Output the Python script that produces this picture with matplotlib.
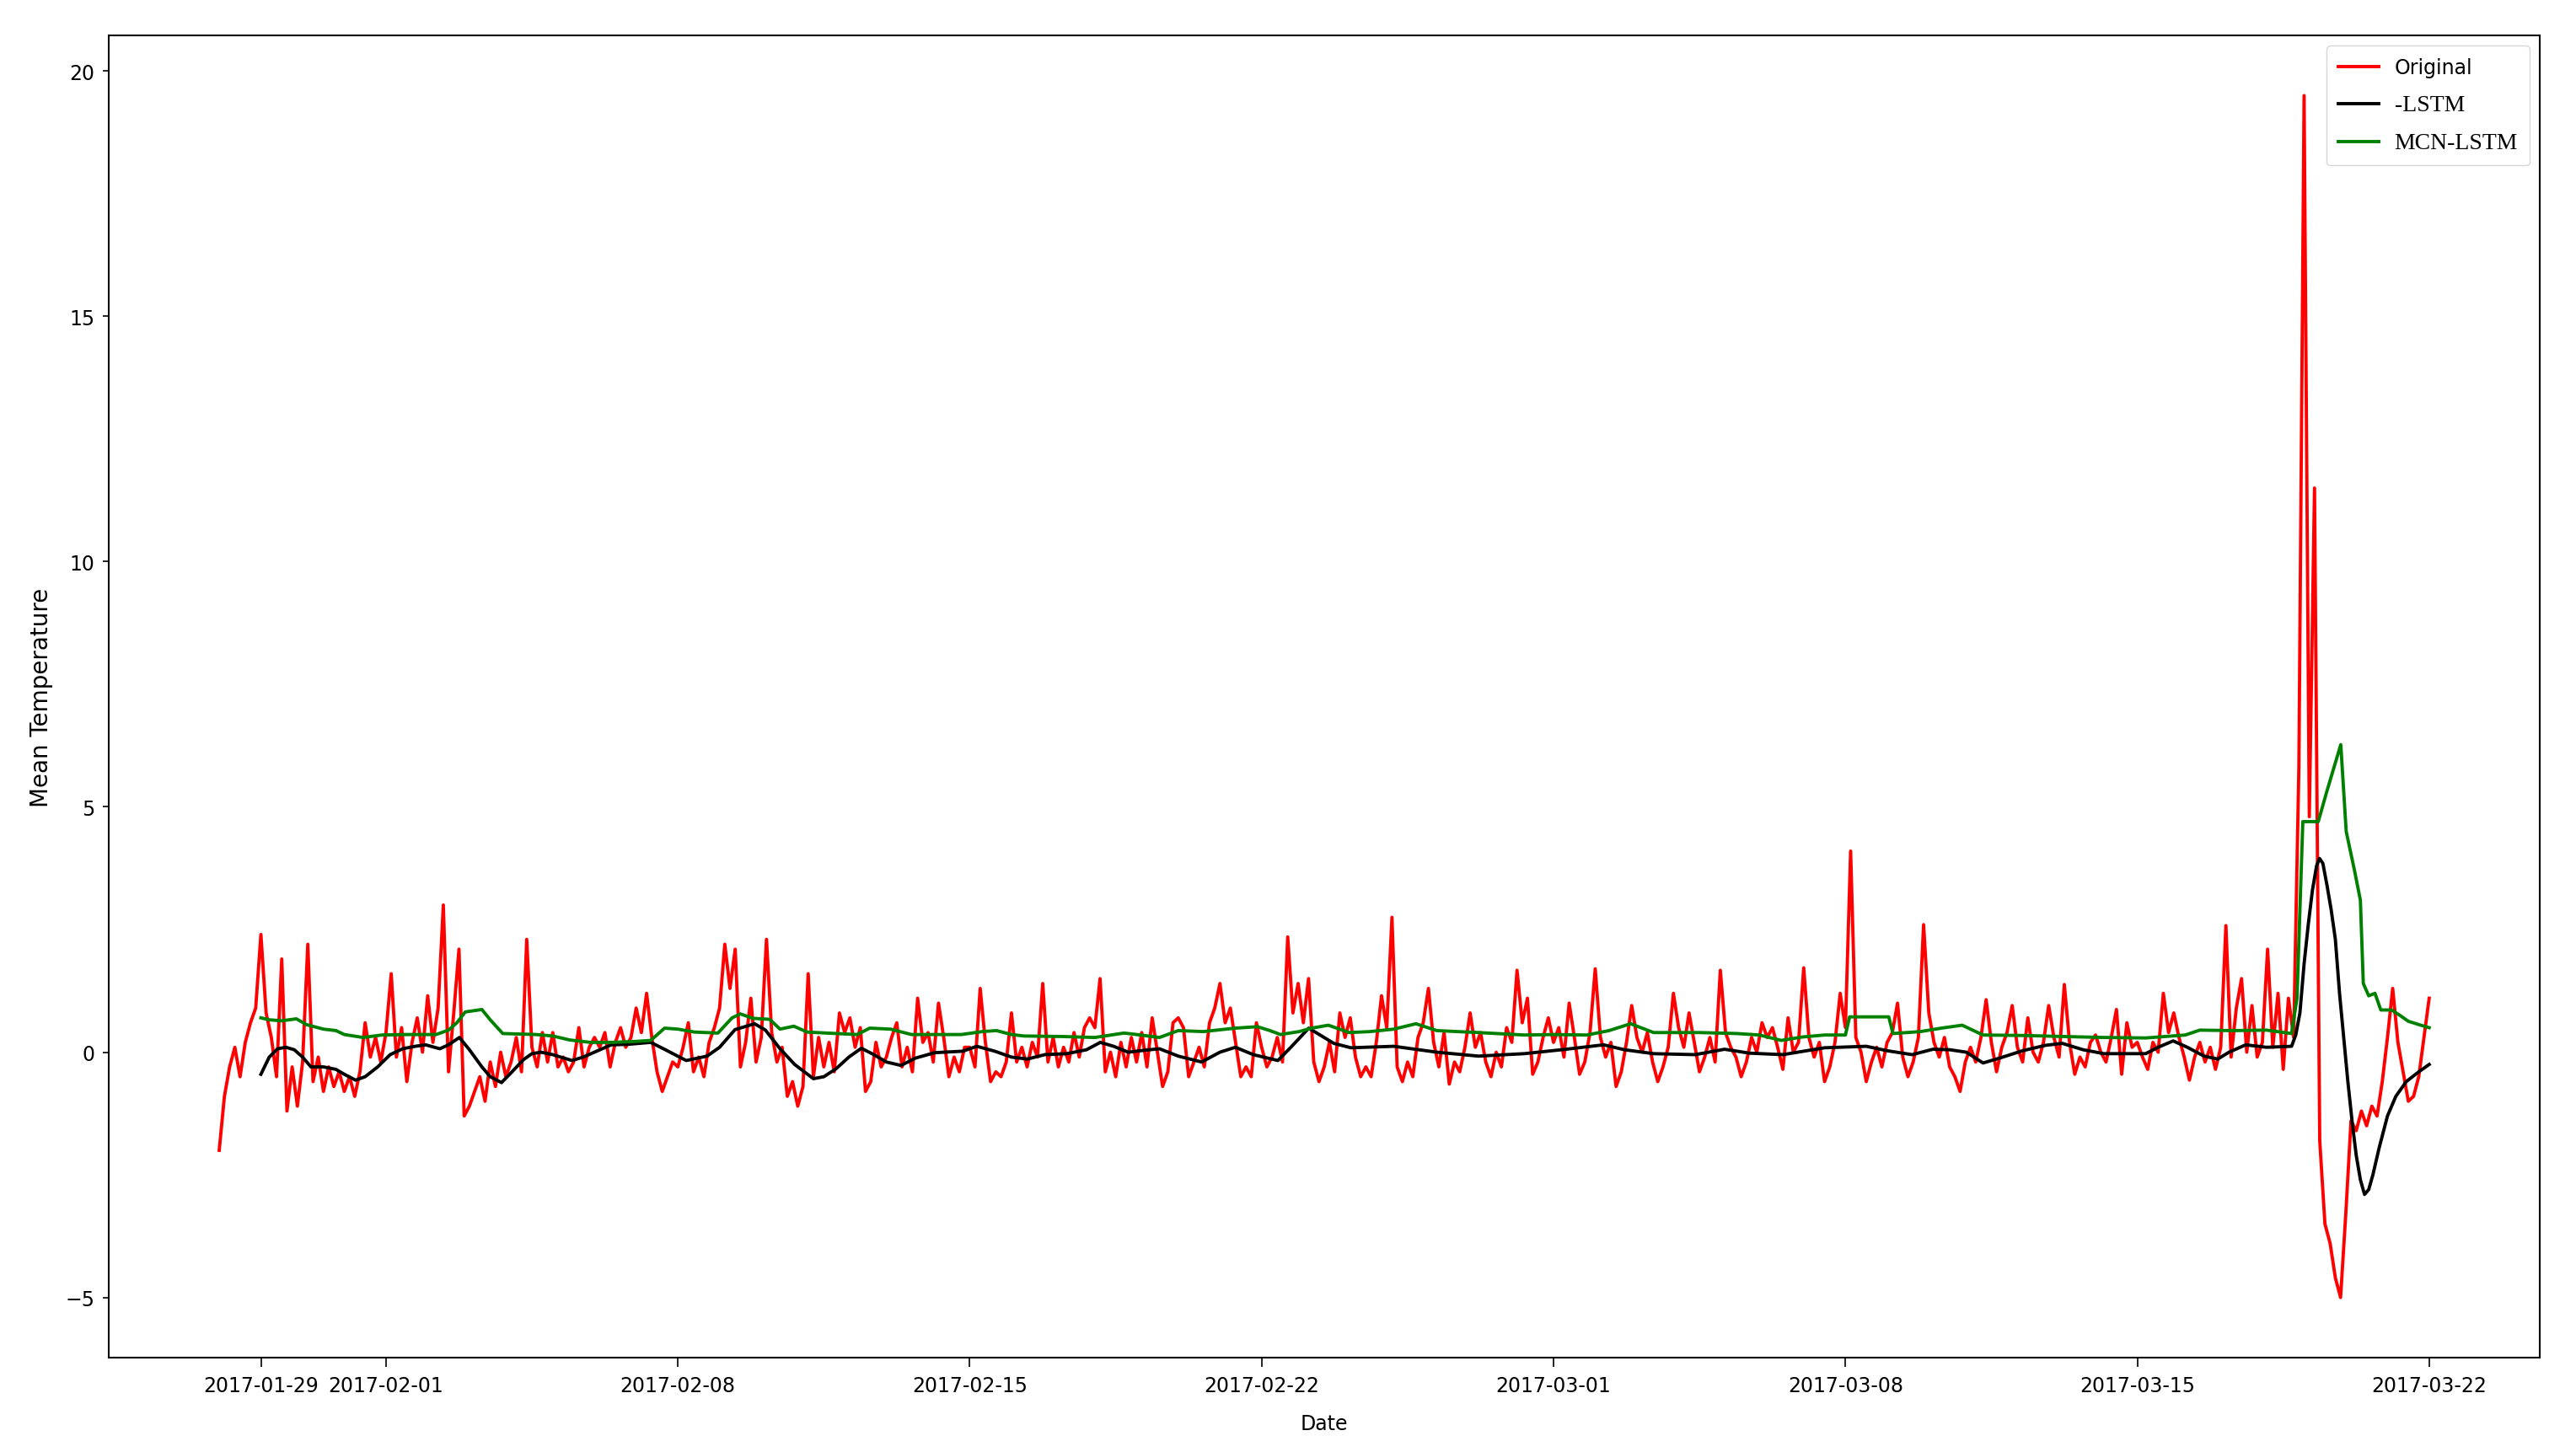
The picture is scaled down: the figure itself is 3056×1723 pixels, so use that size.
"""Mean temperature: original readings vs LSTM and MCN-LSTM predictions."""
import matplotlib
matplotlib.use("Agg")
import matplotlib.pyplot as plt
import matplotlib.dates as mdates
import pandas as pd

OUT = "out.png"

# Original series: 3-hourly values from 2017-01-28 00:00, one row per day
ORIGINAL_START = "2017-01-28"
ORIGINAL = [
    -2.0, -0.9, -0.3, 0.1, -0.5, 0.2, 0.6, 0.9,      # 01-28
    2.4, 0.8, 0.3, -0.5, 1.9, -1.2, -0.3, -1.1,      # 01-29
    -0.2, 2.2, -0.6, -0.1, -0.8, -0.3, -0.7, -0.4,   # 01-30
    -0.8, -0.5, -0.9, -0.4, 0.6, -0.1, 0.3, -0.2,    # 01-31
    0.4, 1.6, -0.1, 0.5, -0.6, 0.2, 0.7, 0.0,        # 02-01
    1.15, 0.2, 0.9, 3.0, -0.4, 0.8, 2.1, -1.3,       # 02-02
    -1.1, -0.8, -0.5, -1.0, -0.2, -0.7, 0.0, -0.5,   # 02-03
    -0.2, 0.3, -0.4, 2.3, 0.1, -0.3, 0.4, -0.2,      # 02-04
    0.4, -0.3, -0.1, -0.4, -0.2, 0.5, -0.3, 0.1,     # 02-05
    0.3, 0.1, 0.4, -0.3, 0.2, 0.5, 0.1, 0.3,         # 02-06
    0.9, 0.4, 1.2, 0.3, -0.4, -0.8, -0.5, -0.2,      # 02-07
    -0.3, 0.1, 0.6, -0.4, -0.1, -0.5, 0.2, 0.5,      # 02-08
    0.9, 2.2, 1.3, 2.1, -0.3, 0.2, 1.1, -0.2,        # 02-09
    0.3, 2.3, 0.4, -0.2, 0.1, -0.9, -0.6, -1.1,      # 02-10
    -0.7, 1.6, -0.5, 0.3, -0.3, 0.2, -0.4, 0.8,      # 02-11
    0.4, 0.7, 0.1, 0.5, -0.8, -0.6, 0.2, -0.3,       # 02-12
    -0.1, 0.3, 0.6, -0.3, 0.1, -0.4, 1.1, 0.2,       # 02-13
    0.4, -0.2, 1.0, 0.3, -0.5, -0.1, -0.4, 0.1,      # 02-14
    0.1, -0.3, 1.3, 0.2, -0.6, -0.4, -0.5, -0.2,     # 02-15
    0.8, -0.2, 0.1, -0.3, 0.2, -0.1, 1.4, -0.2,      # 02-16
    0.3, -0.3, 0.1, -0.2, 0.4, -0.1, 0.5, 0.7,       # 02-17
    0.5, 1.5, -0.4, 0.0, -0.5, 0.2, -0.3, 0.3,       # 02-18
    -0.2, 0.4, -0.3, 0.7, 0.0, -0.7, -0.4, 0.6,      # 02-19
    0.7, 0.5, -0.5, -0.2, 0.1, -0.3, 0.6, 0.9,       # 02-20
    1.4, 0.6, 0.9, 0.2, -0.5, -0.3, -0.5, 0.6,       # 02-21
    0.1, -0.3, -0.1, 0.3, -0.2, 2.35, 0.8, 1.4,      # 02-22
    0.6, 1.5, -0.2, -0.6, -0.3, 0.2, -0.4, 0.8,      # 02-23
    0.3, 0.7, -0.1, -0.5, -0.3, -0.5, 0.2, 1.15,     # 02-24
    0.5, 2.75, -0.3, -0.6, -0.2, -0.5, 0.3, 0.6,     # 02-25
    1.3, 0.2, -0.3, 0.4, -0.65, -0.2, -0.4, 0.1,     # 02-26
    0.8, 0.1, 0.4, -0.2, -0.5, 0.0, -0.3, 0.5,       # 02-27
    0.2, 1.67, 0.6, 1.1, -0.45, -0.2, 0.3, 0.7,      # 02-28
    0.2, 0.5, -0.1, 1.0, 0.3, -0.45, -0.2, 0.4,      # 03-01
    1.7, 0.3, -0.1, 0.2, -0.7, -0.4, 0.2, 0.95,      # 03-02
    0.3, 0.0, 0.4, -0.2, -0.6, -0.3, 0.1, 1.2,       # 03-03
    0.5, 0.1, 0.8, 0.2, -0.4, -0.1, 0.3, -0.2,       # 03-04
    1.67, 0.4, 0.1, -0.1, -0.5, -0.2, 0.3, 0.0,      # 03-05
    0.6, 0.3, 0.5, 0.1, -0.35, 0.7, 0.0, 0.2,        # 03-06
    1.72, 0.3, -0.1, 0.2, -0.6, -0.3, 0.2, 1.2,      # 03-07
    0.5, 4.1, 0.3, 0.0, -0.6, -0.2, 0.1, -0.3,       # 03-08
    0.2, 0.4, 1.0, -0.1, -0.5, -0.2, 0.3, 2.6,       # 03-09
    0.8, 0.2, -0.1, 0.3, -0.3, -0.5, -0.8, -0.2,     # 03-10
    0.1, -0.2, 0.3, 1.07, 0.2, -0.4, 0.1, 0.4,       # 03-11
    0.95, 0.1, -0.2, 0.7, 0.0, -0.2, 0.2, 0.95,      # 03-12
    0.3, -0.1, 1.38, 0.2, -0.45, -0.1, -0.3, 0.2,    # 03-13
    0.35, 0.0, -0.2, 0.3, 0.87, -0.45, 0.6, 0.1,     # 03-14
    0.2, -0.1, -0.35, 0.2, 0.0, 1.2, 0.4, 0.8,       # 03-15
    0.3, -0.1, -0.57, -0.1, 0.2, -0.2, 0.1, -0.35,   # 03-16
    0.1, 2.58, -0.1, 0.9, 1.5, 0.0, 0.95, -0.1,      # 03-17
    0.2, 2.1, 0.1, 1.2, -0.35, 1.1, 0.3, 5.8,        # 03-18
    19.5, 4.8, 11.5, -1.8, -3.5, -3.9, -4.6, -5.0,   # 03-19
    -3.3, -1.4, -1.6, -1.2, -1.5, -1.1, -1.3, -0.6,  # 03-20
    0.3, 1.3, 0.2, -0.4, -1.0, -0.9, -0.5, 0.3,      # 03-21
    1.1,                                             # 03-22 00:00
]

# Predictions, read as (days after 2017-01-29, value) points
PRED_START = "2017-01-29"
LSTM_DAY = [
    0.0, 0.2, 0.4, 0.6, 0.8, 1.0, 1.2, 1.5, 1.8, 2.0, 2.27, 2.5, 2.8, 3.1,
    3.4, 3.7, 3.95, 4.29, 4.5, 4.76, 5.0, 5.3, 5.5, 5.77, 6.0, 6.3, 6.5,
    6.72, 7.0, 7.46, 7.73, 8.0, 8.4, 8.8, 9.35, 9.7, 10.2, 10.7, 11.0,
    11.37, 11.84, 12.1, 12.45, 12.8, 13.25, 13.5, 13.79, 14.1, 14.4, 14.7,
    15.0, 15.35, 15.7, 16.16, 16.83, 17.17, 17.6, 18.0, 18.38, 18.8, 19.33,
    19.8, 20.13, 20.45, 20.8, 21.2, 21.55, 22.0, 22.56, 23.0, 23.37, 23.8,
    24.39, 24.7, 25.13, 25.5, 25.73, 26.14, 27.17, 28.2, 29.2, 30.3, 31.3,
    32.2, 32.7, 33.4, 34.4, 35.1, 35.7, 36.5, 37.5, 38.5, 39.0, 39.6, 40.1,
    40.5, 40.9, 41.3, 41.7, 42.25, 42.8, 43.2, 43.7, 44.2, 45.2, 45.5,
    45.86, 46.2, 46.6, 46.93, 47.2, 47.6, 48.1, 48.7, 48.8, 48.9, 49.0,
    49.1, 49.2, 49.3, 49.37, 49.45, 49.55, 49.65, 49.75, 49.85, 49.95,
    50.05, 50.15, 50.25, 50.35, 50.45, 50.55, 50.65, 50.8, 51.0, 51.2,
    51.45, 51.75, 52.0,
]
LSTM_VAL = [
    -0.45, -0.1, 0.07, 0.1, 0.05, -0.1, -0.3, -0.3, -0.35, -0.45, -0.57,
    -0.5, -0.3, -0.05, 0.07, 0.12, 0.15, 0.07, 0.15, 0.3, 0.05, -0.3, -0.5,
    -0.62, -0.42, -0.15, -0.03, 0.0, -0.05, -0.17, -0.1, 0.0, 0.15, 0.16,
    0.2, 0.05, -0.17, -0.08, 0.1, 0.46, 0.58, 0.45, 0.07, -0.25, -0.54,
    -0.5, -0.34, -0.1, 0.08, -0.05, -0.2, -0.27, -0.12, -0.01, 0.02, 0.12,
    0.02, -0.1, -0.14, -0.05, -0.03, 0.05, 0.2, 0.12, 0.0, 0.04, 0.07,
    -0.08, -0.2, 0.0, 0.1, -0.05, -0.17, 0.1, 0.49, 0.3, 0.18, 0.09, 0.12,
    0.0, -0.08, -0.03, 0.06, 0.15, 0.05, -0.03, -0.05, 0.06, -0.02, -0.05,
    0.09, 0.12, 0.03, -0.05, 0.06, 0.05, 0.0, -0.22, -0.12, 0.03, 0.14,
    0.18, 0.05, -0.03, -0.03, 0.1, 0.23, 0.1, -0.08, -0.14, 0.0, 0.15,
    0.1, 0.12, 0.35, 0.8, 1.8, 2.6, 3.3, 3.8, 3.95, 3.85, 3.4, 2.9, 2.3,
    1.2, 0.3, -0.6, -1.4, -2.1, -2.6, -2.9, -2.8, -2.5, -1.95, -1.3, -0.9,
    -0.6, -0.4, -0.25,
]
MCN_DAY = [
    0.0, 0.2, 0.5, 0.85, 1.1, 1.5, 1.8, 2.0, 2.45, 2.9, 3.5, 4.2, 4.5, 4.7,
    4.9, 5.3, 5.5, 5.8, 6.6, 7.0, 7.4, 7.9, 8.4, 9.0, 9.35, 9.68, 10.0,
    10.4, 10.96, 11.3, 11.5, 11.8, 12.2, 12.45, 12.78, 13.1, 13.8, 14.3,
    14.6, 15.1, 15.6, 16.2, 16.8, 17.3, 17.64, 18.0, 18.3, 19.2, 20.0,
    20.7, 21.0, 21.55, 22.0, 22.6, 23.37, 23.9, 24.2, 24.45, 24.9, 25.2,
    25.6, 26.1, 26.6, 27.17, 27.7, 28.2, 29.2, 30.3, 31.0, 31.8, 32.33,
    32.85, 33.4, 34.5, 35.4, 35.94, 36.46, 36.97, 37.5, 38.0, 38.1, 39.04,
    39.14, 39.8, 40.3, 40.8, 41.3, 42.3, 43.2, 44.2, 45.2, 46.15, 46.5,
    47.3, 48.1, 48.7, 48.83, 48.97, 49.34, 49.54, 49.88, 50.01, 50.21,
    50.35, 50.42, 50.55, 50.7, 50.84, 51.1, 51.3, 51.5, 51.8, 52.0,
]
MCN_VAL = [
    0.7, 0.66, 0.64, 0.68, 0.56, 0.47, 0.44, 0.36, 0.3, 0.35, 0.36, 0.36,
    0.45, 0.6, 0.82, 0.87, 0.66, 0.38, 0.36, 0.33, 0.25, 0.2, 0.2, 0.22,
    0.24, 0.49, 0.47, 0.41, 0.39, 0.7, 0.78, 0.69, 0.67, 0.47, 0.53, 0.41,
    0.38, 0.36, 0.49, 0.47, 0.36, 0.36, 0.36, 0.42, 0.44, 0.36, 0.33, 0.32,
    0.3, 0.39, 0.36, 0.3, 0.44, 0.42, 0.49, 0.52, 0.44, 0.36, 0.42, 0.49,
    0.55, 0.4, 0.42, 0.47, 0.58, 0.44, 0.4, 0.35, 0.36, 0.35, 0.44, 0.58,
    0.4, 0.4, 0.38, 0.35, 0.24, 0.31, 0.35, 0.35, 0.72, 0.72, 0.38, 0.42,
    0.49, 0.55, 0.35, 0.34, 0.32, 0.3, 0.29, 0.35, 0.45, 0.44, 0.45, 0.38,
    1.1, 4.7, 4.7, 5.3, 6.27, 4.5, 3.7, 3.1, 1.4, 1.15, 1.2, 0.86, 0.86,
    0.75, 0.63, 0.55, 0.5,
]

TICK_DATES = ["2017-01-29", "2017-02-01", "2017-02-08", "2017-02-15",
              "2017-02-22", "2017-03-01", "2017-03-08", "2017-03-15",
              "2017-03-22"]


def main() -> None:
    orig_t = pd.date_range(ORIGINAL_START, periods=len(ORIGINAL), freq="3h")
    base = pd.Timestamp(PRED_START)
    lstm_t = base + pd.to_timedelta(LSTM_DAY, unit="D")
    mcn_t = base + pd.to_timedelta(MCN_DAY, unit="D")

    fig = plt.figure(figsize=(30.56, 17.24), dpi=100)
    ax = fig.add_axes([0.0422, 0.065, 0.9437, 0.910])

    ax.plot(orig_t, ORIGINAL, color="red", linewidth=2.8, label="Original")
    ax.plot(lstm_t, LSTM_VAL, color="black", linewidth=2.8, label="-LSTM")
    ax.plot(mcn_t, MCN_VAL, color="green", linewidth=2.8, label="MCN-LSTM")

    ax.set_xticks(pd.to_datetime(TICK_DATES))
    ax.xaxis.set_major_formatter(mdates.DateFormatter("%Y-%m-%d"))
    ax.set_yticks([-5, 0, 5, 10, 15, 20])
    ax.tick_params(axis="x", labelsize=17, length=8, width=1.2, pad=7)
    ax.tick_params(axis="y", labelsize=17, length=5, width=1.2, pad=7)
    for sp in ax.spines.values():
        sp.set_linewidth(1.5)

    ax.set_xlabel("Date", fontsize=17, labelpad=15)
    ax.set_ylabel("Mean Temperature", fontsize=20, labelpad=10)

    leg = ax.legend(loc="upper right", fontsize=17, labelspacing=0.85,
                    borderpad=0.6)
    # the two model labels are set in a serif face in the original
    for txt in leg.get_texts()[1:]:
        txt.set_fontfamily(["Liberation Serif", "DejaVu Serif"])
        txt.set_fontsize(20)

    fig.savefig(OUT, dpi=100)


if __name__ == "__main__":
    main()
